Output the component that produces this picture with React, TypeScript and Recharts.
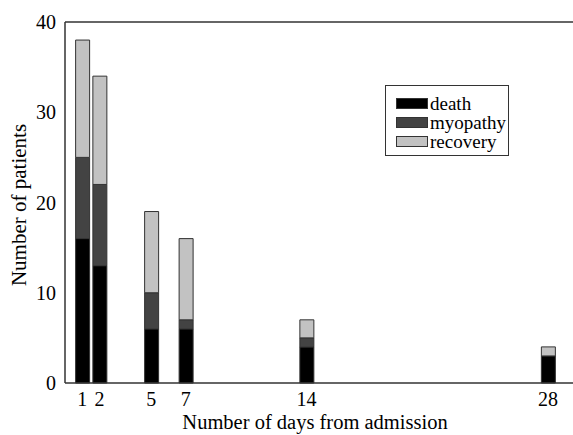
import { BarChart, Bar, XAxis, YAxis, ReferenceLine } from 'recharts';

// days from admission and outcome counts per group
const days = [1, 2, 5, 7, 14, 28];
const death = [16, 13, 6, 6, 4, 3];
const myopathy = [9, 9, 4, 1, 1, 0];
const recovery = [13, 12, 9, 9, 2, 1];

const yTicks = [0, 10, 20, 30, 40];

const series = [
  { key: 'death', name: 'death', color: '#000000' },
  { key: 'myopathy', name: 'myopathy', color: '#434343' },
  { key: 'recovery', name: 'recovery', color: '#c2c2c2' },
];

const data = days.map((day, i) => ({
  day,
  death: death[i],
  myopathy: myopathy[i],
  recovery: recovery[i],
}));

const FONT = '"Liberation Serif", "Times New Roman", serif';

// legend box sits on top of the plot, out of the chart's layout
const LegendBox = () => (
  <div
    style={{
      position: 'absolute',
      left: 385,
      top: 85,
      width: 124,
      height: 71,
      border: '1.5px solid #333',
      background: '#fff',
      padding: '8px 0 0 10px',
      fontFamily: FONT,
      fontSize: 19,
      lineHeight: '19px',
      boxSizing: 'border-box',
      color: '#000',
    }}
  >
    {series.map((s) => (
      <div key={s.key} style={{ display: 'flex', alignItems: 'center', fontFamily: FONT }}>
        <span
          style={{
            display: 'inline-block',
            width: 30,
            height: 9,
            background: s.color,
            border: '1px solid #333',
            marginRight: 2,
          }}
        />
        <span style={{ fontFamily: FONT }}>{s.name}</span>
      </div>
    ))}
  </div>
);

const XLabel = ({ viewBox }: any) => (
  <text
    x={viewBox.x + viewBox.width / 2 - 4}
    y={429}
    textAnchor="middle"
    fontFamily={FONT}
    fontSize={20.5}
    fill="#000"
  >
    Number of days from admission
  </text>
);

const YLabel = () => (
  <text
    x={26}
    y={205}
    transform="rotate(-90 26 205)"
    textAnchor="middle"
    fontFamily={FONT}
    fontSize={21}
    fill="#000"
  >
    Number of patients
  </text>
);

export default function App() {
  return (
    <div style={{ position: 'absolute', left: 0, top: 0, width: 573, height: 435, background: '#fff' }}>
      <BarChart
        width={573}
        height={435}
        data={data}
        margin={{ top: 22, right: 0, left: 0, bottom: 0 }}
      >
        <XAxis
          dataKey="day"
          type="number"
          domain={[0, 29.45]}
          ticks={days}
          interval={0}
          height={52}
          tickLine={false}
          tickSize={0}
          tickMargin={9}
          axisLine={{ stroke: '#333', strokeWidth: 1.5 }}
          tick={{ fill: '#000', fontSize: 20, fontFamily: FONT }}
          label={<XLabel />}
        />
        <YAxis
          type="number"
          domain={[0, 40]}
          ticks={yTicks}
          width={65}
          tickLine={false}
          tickSize={0}
          tickMargin={9}
          axisLine={{ stroke: '#333', strokeWidth: 1.5 }}
          tick={{ fill: '#000', fontSize: 20, fontFamily: FONT }}
          label={<YLabel />}
        />
        <ReferenceLine y={40} stroke="#333" strokeWidth={1.5} />
        {series.map((s) => (
          <Bar
            key={s.key}
            dataKey={s.key}
            name={s.name}
            stackId="a"
            fill={s.color}
            stroke="#333"
            strokeWidth={1}
            barSize={14}
            isAnimationActive={false}
          />
        ))}
      </BarChart>
      <LegendBox />
    </div>
  );
}
